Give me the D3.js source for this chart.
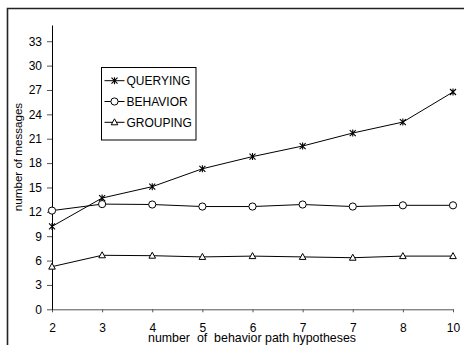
<!DOCTYPE html>
<html>
<head>
<meta charset="utf-8">
<script src="https://cdn.jsdelivr.net/npm/d3@7"></script>
<style>
  body { margin: 0; background: #fff; }
  svg { display: block; font-family: "Liberation Sans", Arial, sans-serif; }
</style>
</head>
<body>
<div id="main-vis"></div>
<script>
// x categories (note the repeated 7, as in the original figure)
var categories = ["2", "3", "4", "5", "6", "7", "7", "8", "10"];
var querying = [10.2, 13.7, 15.1, 17.3, 18.8, 20.1, 21.7, 23.05, 26.75];
var behavior = [12.15, 12.95, 12.9, 12.65, 12.65, 12.9, 12.65, 12.8, 12.8];
var grouping = [5.25, 6.65, 6.6, 6.45, 6.55, 6.45, 6.35, 6.55, 6.55];
var yTicks = [0, 3, 6, 9, 12, 15, 18, 21, 24, 27, 30, 33];

var series = [
  { name: "QUERYING", values: querying, marker: "star" },
  { name: "BEHAVIOR", values: behavior, marker: "circle" },
  { name: "GROUPING", values: grouping, marker: "triangle" }
];

var width = 464, height = 345;
var font = "Liberation Sans, Arial, sans-serif";

var svg = d3.select("#main-vis").append("svg")
  .attr("width", width)
  .attr("height", height);

// outer frame (only top and left edges visible)
svg.append("path")
  .attr("d", "M7.5," + height + "V8.5H" + width)
  .attr("fill", "none")
  .attr("stroke", "#222")
  .attr("stroke-width", 1.6);

var x = d3.scalePoint()
  .domain(d3.range(categories.length))
  .range([52, 453]);
var y = d3.scaleLinear()
  .domain([0, 35])
  .range([309.3, 25]);

// x axis
var xAxis = svg.append("g")
  .attr("transform", "translate(0," + y(0) + ")")
  .call(d3.axisBottom(x).tickSize(3).tickSizeOuter(0).tickPadding(11)
    .tickFormat(function (i) { return categories[i]; }));
xAxis.select(".domain").attr("stroke", "#555");
xAxis.selectAll(".tick line").attr("stroke", "#555");
xAxis.selectAll("text").attr("font-size", 12).attr("fill", "#000")
  .attr("font-family", font);

// y axis
var yAxis = svg.append("g")
  .attr("transform", "translate(" + x(0) + ",0)")
  .call(d3.axisLeft(y).tickValues(yTicks).tickSize(5).tickSizeOuter(0).tickPadding(5));
yAxis.select(".domain").attr("stroke", "#000");
yAxis.selectAll(".tick line").attr("stroke", "#555");
yAxis.selectAll("text").attr("font-size", 12).attr("fill", "#000")
  .attr("font-family", font);

// axis titles
svg.append("text")
  .attr("x", 252)
  .attr("y", 342)
  .attr("text-anchor", "middle")
  .attr("font-size", 12.4)
  .attr("fill", "#000")
  .attr("xml:space", "preserve")
  .style("white-space", "pre")
  .text("number  of  behavior path hypotheses");

svg.append("text")
  .attr("transform", "translate(21.5,157) rotate(-90)")
  .attr("text-anchor", "middle")
  .attr("font-size", 11.6)
  .attr("fill", "#000")
  .text("number of messages");

function drawMarker(g, type) {
  if (type === "circle") {
    g.append("circle").attr("r", 3.6)
      .attr("fill", "#fff").attr("stroke", "#000").attr("stroke-width", 1);
  } else if (type === "triangle") {
    g.append("path").attr("d", "M0,-3.5L3.3,2.5L-3.3,2.5Z")
      .attr("fill", "#fff").attr("stroke", "#000").attr("stroke-width", 1);
  } else {
    g.append("path").attr("d", "M-3,-3L3,3M-3,3L3,-3M0,-3.5V3.5")
      .attr("fill", "none").attr("stroke", "#000").attr("stroke-width", 1.1);
  }
}

var line = d3.line()
  .x(function (d, i) { return x(i); })
  .y(function (d) { return y(d); });

series.forEach(function (s) {
  svg.append("path")
    .datum(s.values)
    .attr("fill", "none")
    .attr("stroke", "#000")
    .attr("stroke-width", 1)
    .attr("d", line);

  svg.selectAll(null)
    .data(s.values)
    .enter().append("g")
    .attr("transform", function (d, i) { return "translate(" + x(i) + "," + y(d) + ")"; })
    .each(function () { drawMarker(d3.select(this), s.marker); });
});

// legend
var legend = svg.append("g");
legend.append("rect")
  .attr("x", 101.5).attr("y", 67.5)
  .attr("width", 94.5).attr("height", 72.5)
  .attr("fill", "#fff").attr("stroke", "#000").attr("stroke-width", 1);

var legendY = [80.7, 101.5, 122.3];
series.forEach(function (s, i) {
  var row = legend.append("g").attr("transform", "translate(114.5," + legendY[i] + ")");
  row.append("line").attr("x1", -10).attr("x2", 10)
    .attr("stroke", "#000").attr("stroke-width", 1);
  drawMarker(row, s.marker);
  row.append("text")
    .attr("x", 12).attr("y", 4.3)
    .attr("font-size", 12)
    .attr("fill", "#000")
    .text(s.name);
});
</script>
</body>
</html>
